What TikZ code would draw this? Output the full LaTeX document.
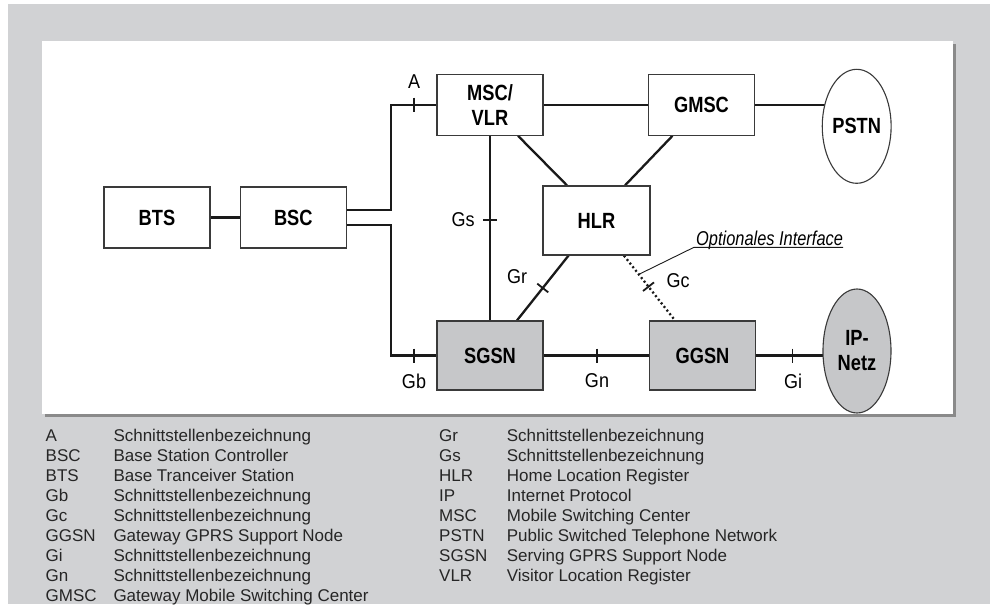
\documentclass[tikz,border=0pt]{standalone}
\usepackage{fontspec}
\setmainfont{Liberation Sans}
\newfontfamily\nodefnt[FakeStretch=0.83]{Liberation Sans}
\newfontfamily\labfnt[FakeStretch=0.9]{Liberation Sans}
\newfontfamily\optfnt[FakeStretch=0.82]{Liberation Sans}
\usetikzlibrary{shapes.geometric,calc,backgrounds}
\definecolor{bggray}{HTML}{D1D2D4}
\definecolor{shadowgray}{HTML}{8A8A8A}
\definecolor{nodegray}{HTML}{C6C7C9}
\definecolor{boxline}{HTML}{3A3A3A}
\definecolor{inkline}{HTML}{1A1A1A}
\definecolor{legtext}{HTML}{262626}
\begin{document}
\begin{tikzpicture}[x=1pt,y=-1pt,
  box/.style={draw=boxline, line width=1.2pt, fill=white, minimum width=106pt, minimum height=61pt,
    inner sep=0pt, align=center, font=\nodefnt\bfseries\fontsize{22}{25}\selectfont},
  gbox/.style={box, fill=nodegray, minimum height=69pt},
  cloud/.style={ellipse, draw=boxline, line width=1.1pt, fill=white, minimum width=68pt, minimum height=114pt,
    inner sep=0pt, align=center, font=\nodefnt\bfseries\fontsize{22}{25}\selectfont},
  conn/.style={draw=inkline, line width=2.3pt},
  dotconn/.style={draw=inkline, line width=2.3pt, dash pattern=on 2pt off 2.6pt},
  tickm/.style={draw=inkline, line width=1.8pt},
  lab/.style={inner sep=0pt, font=\labfnt\fontsize{20}{22}\selectfont},
  leader/.style={draw=inkline, line width=0.9pt},
  legab/.style={anchor=base west, inner sep=0pt, text=legtext, font=\fontsize{17}{20}\selectfont},
]
\useasboundingbox (0,0) rectangle (994,613);

% nodes
\node[box] (bts) at (157,217.5) {BTS};
\node[box] (bsc) at (293.3,217.5) {BSC};
\node[box] (msc) at (490,104.7) {MSC/\\VLR};
\node[box] (gmsc) at (701.5,104.7) {GMSC};
\node[box, minimum width=107pt, minimum height=69pt] (hlr) at (596.5,220.5) {HLR};
\node[gbox] (sgsn) at (490,355.5) {SGSN};
\node[gbox] (ggsn) at (702.5,355.5) {GGSN};
\node[cloud] (pstn) at (856.7,126.3) {PSTN};
\node[cloud, fill=nodegray, minimum height=124pt] (ip) at (857,351) {IP-\\Netz};

\coordinate (ca) at (391,104.7);
\coordinate (cb) at (391,355.5);

\begin{scope}[on background layer]
  \fill[bggray] (8,4) rectangle (990,604);
  \fill[shadowgray] (45,44) rectangle (955.5,417);
  \fill[white] (42,41) rectangle (953,414);
  \draw[conn] (bts) -- (bsc);
  \draw[conn] ([yshift=7.5pt]bsc.east) -| (ca) -- (msc.west);
  \draw[conn] ([yshift=-7.5pt]bsc.east) -| (cb) -- (sgsn.west);
  \draw[conn] (msc) -- (gmsc);
  \draw[conn] (gmsc.east) -- (pstn.center |- gmsc.east);
  \draw[conn] (msc) -- (sgsn);
  \draw[conn] ([xshift=28pt]msc.south) -- ([xshift=-29.5pt]hlr.north);
  \draw[conn] ([xshift=-29pt]gmsc.south) -- ([xshift=28.5pt]hlr.north);
  \draw[conn] ([xshift=-28pt]hlr.south) coordinate (grA) -- ([xshift=27pt]sgsn.north) coordinate (grB);
  \draw[dotconn] ([xshift=27.5pt]hlr.south) coordinate (gcA) -- ([xshift=-27.5pt]ggsn.north) coordinate (gcB);
  \draw[conn] (sgsn) -- (ggsn);
  \draw[conn] (ggsn.east) -- (ip.center |- ggsn.east);
\end{scope}

% interface ticks
\coordinate (tA) at (414,104.7);
\coordinate (tGb) at (414,355.5);
\coordinate (tGs) at (490,220);
\coordinate (tGn) at (597,355.5);
\coordinate (tGi) at (792.5,355.5);
\coordinate (tGr) at ($(grA)!0.5!(grB)$);
\coordinate (tGc) at ($(gcA)!0.48!(gcB)$);
\draw[tickm] ([yshift=7pt]tA) -- ([yshift=-7pt]tA);
\draw[tickm] ([yshift=7pt]tGb) -- ([yshift=-7pt]tGb);
\draw[tickm] ([yshift=7pt]tGn) -- ([yshift=-7pt]tGn);
\draw[tickm] ([yshift=7pt]tGi) -- ([yshift=-7pt]tGi);
\draw[tickm] ([xshift=-7pt]tGs) -- ([xshift=7pt]tGs);
\draw[tickm] ($(tGr)!7pt!90:(grB)$) -- ($(tGr)!7pt!-90:(grB)$);
\draw[tickm] ($(tGc)!7pt!90:(gcB)$) -- ($(tGc)!7pt!-90:(gcB)$);

% interface labels
\node[lab] (lA) at (414,82) {A};
\node[lab] (lGb) at (414,381) {Gb};
\node[lab] (lGn) at (597,381) {Gn};
\node[lab] (lGi) at (793,381) {Gi};
\node[lab] (lGs) at (463,220) {Gs};
\node[lab] (lGr) at (517,277) {Gr};
\node[lab] (lGc) at (678,281) {Gc};

% optional interface note
\node[anchor=base west, inner sep=0pt, font=\optfnt\itshape\fontsize{20}{22}\selectfont] (opt) at (696,245) {Optionales Interface};
\coordinate (ul) at ([yshift=-2.3pt]opt.base west);
\coordinate (le) at ($(gcA)!0.29!(gcB)$);
\draw[leader] (le) -- ([xshift=-2pt]ul) -- (ul -| opt.east);

% legend
\foreach \ab/\txt [count=\i] in {A/Schnittstellenbezeichnung, BSC/Base Station Controller,
    BTS/Base Tranceiver Station, Gb/Schnittstellenbezeichnung, Gc/Schnittstellenbezeichnung,
    GGSN/Gateway GPRS Support Node, Gi/Schnittstellenbezeichnung, Gn/Schnittstellenbezeichnung,
    GMSC/Gateway Mobile Switching Center} {
  \node[legab] (la\i) at (45.5,{441.8+20*(\i-1)}) {\ab};
  \node[legab] (ld\i) at (113.3,{441.8+20*(\i-1)}) {\txt};
}
\foreach \ab/\txt [count=\i] in {Gr/Schnittstellenbezeichnung, Gs/Schnittstellenbezeichnung,
    HLR/Home Location Register, IP/Internet Protocol, MSC/Mobile Switching Center,
    PSTN/Public Switched Telephone Network, SGSN/Serving GPRS Support Node,
    VLR/Visitor Location Register} {
  \node[legab] (ra\i) at (439,{441.8+20*(\i-1)}) {\ab};
  \node[legab] (rd\i) at (506.7,{441.8+20*(\i-1)}) {\txt};
}
\end{tikzpicture}
\end{document}
